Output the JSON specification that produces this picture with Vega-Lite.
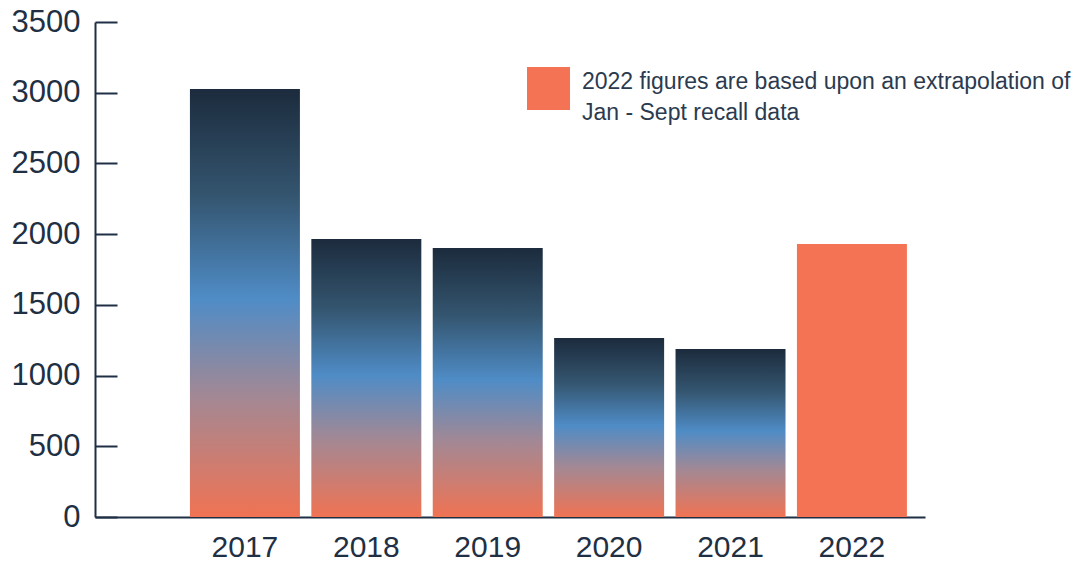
{
  "$schema": "https://vega.github.io/schema/vega-lite/v6.json",
  "autosize": "none",
  "padding": {"left": 95, "top": 22, "right": 162, "bottom": 47},
  "width": 830,
  "height": 495,
  "background": "white",
  "config": {
    "view": {"stroke": null},
    "font": "Liberation Sans",
    "style": {"guide-label": {"lineHeight": 31}}
  },
  "data": {
    "values": [
      {"year": "2017", "recalls": 3026, "note": null},
      {"year": "2018", "recalls": 1966, "note": null},
      {"year": "2019", "recalls": 1902, "note": null},
      {"year": "2020", "recalls": 1266, "note": null},
      {"year": "2021", "recalls": 1188, "note": null},
      {"year": "2022", "recalls": 1930, "note": "2022 figures are based upon an extrapolation of\nJan - Sept recall data"}
    ]
  },
  "encoding": {
    "x": {
      "field": "year",
      "type": "ordinal",
      "scale": {"paddingInner": 0.094, "paddingOuter": 0.4655, "align": 0.84},
      "axis": {
        "title": null,
        "labelAngle": 0,
        "labelFontSize": 30,
        "labelColor": "#1f3044",
        "labelPadding": 15,
        "ticks": false,
        "domainColor": "#1f3044",
        "domainWidth": 2
      }
    },
    "y": {
      "field": "recalls",
      "type": "quantitative",
      "scale": {"domain": [0, 3500], "nice": false},
      "axis": {
        "title": null,
        "values": [0, 500, 1000, 1500, 2000, 2500, 3000, 3500],
        "format": "d",
        "grid": false,
        "labelFontSize": 31,
        "labelColor": "#1f3044",
        "tickSize": -22,
        "tickColor": "#1f3044",
        "tickWidth": 2,
        "labelPadding": 37,
        "domainColor": "#1f3044",
        "domainWidth": 2
      }
    }
  },
  "layer": [
    {
      "transform": [{"filter": "datum.year != '2022'"}],
      "mark": {
        "type": "bar",
        "fill": {
          "gradient": "linear",
          "x1": 0, "y1": 0, "x2": 0, "y2": 1,
          "stops": [
            {"offset": 0, "color": "#1c2b3d"},
            {"offset": 0.25, "color": "#34556f"},
            {"offset": 0.49, "color": "#4f8cc6"},
            {"offset": 0.72, "color": "#a38894"},
            {"offset": 1, "color": "#f07353"}
          ]
        }
      }
    },
    {
      "transform": [{"filter": "datum.year == '2022'"}],
      "mark": {"type": "bar"},
      "encoding": {
        "color": {
          "field": "note",
          "type": "nominal",
          "scale": {"range": ["#f47355"]},
          "legend": {
            "title": null,
            "orient": "none",
            "legendX": 432,
            "legendY": 45,
            "symbolType": "square",
            "symbolSize": 1849,
            "symbolStrokeWidth": 0,
            "labelFontSize": 23,
            "labelColor": "#2b3a4f",
            "labelLimit": 700,
            "labelOffset": 12,
            "labelBaseline": "alphabetic",
            "labelExpr": "split(datum.label, '\\n')"
          }
        }
      }
    }
  ]
}
